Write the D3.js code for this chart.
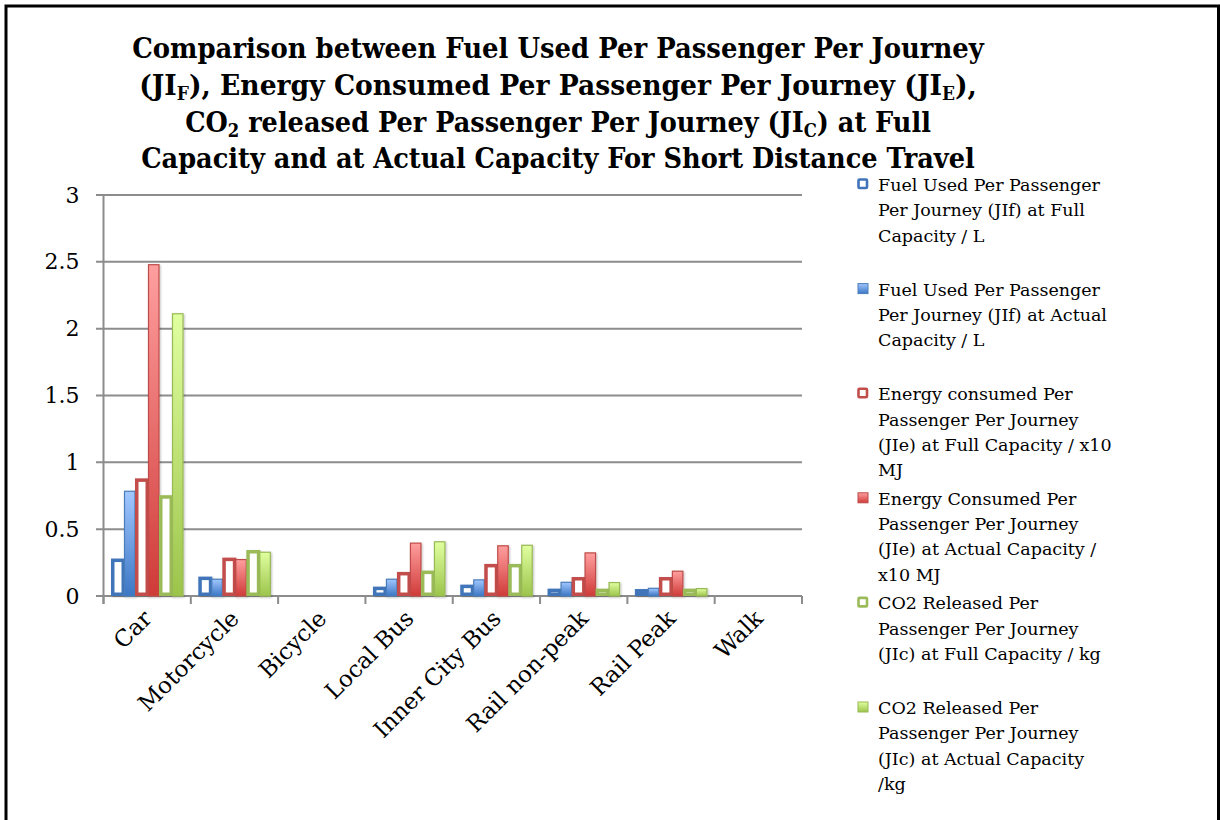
<!DOCTYPE html>
<html>
<head>
<meta charset="utf-8">
<script src="https://cdn.jsdelivr.net/npm/d3@7"></script>
<style>
  html, body { margin: 0; padding: 0; background: #fff; }
  svg { display: block; font-family: "DejaVu Serif", serif; }
</style>
</head>
<body>
<div id="chart"></div>
<script>
const categories = ['Car', 'Motorcycle', 'Bicycle', 'Local Bus', 'Inner City Bus', 'Rail non-peak', 'Rail Peak', 'Walk'];

const jifFull = [0.28, 0.145, 0, 0.07, 0.085, 0.055, 0.052, 0];
const jifActual = [0.788, 0.13, 0, 0.13, 0.125, 0.107, 0.062, 0];
const jieFull = [0.88, 0.287, 0, 0.18, 0.24, 0.142, 0.142, 0];
const jieActual = [2.483, 0.277, 0, 0.40, 0.38, 0.327, 0.19, 0];
const jicFull = [0.754, 0.344, 0, 0.19, 0.24, 0.055, 0.055, 0];
const jicActual = [2.116, 0.332, 0, 0.41, 0.384, 0.105, 0.06, 0];

const yTicks = [0, 0.5, 1, 1.5, 2, 2.5, 3];

const legendLines = [
  ['Fuel Used Per Passenger', 'Per Journey (JIf) at Full', 'Capacity / L'],
  ['Fuel Used Per Passenger', 'Per Journey (JIf) at Actual', 'Capacity / L'],
  ['Energy consumed Per', 'Passenger Per Journey', '(JIe) at Full Capacity / x10', 'MJ'],
  ['Energy Consumed Per', 'Passenger Per Journey', '(JIe) at Actual Capacity /', 'x10 MJ'],
  ['CO2 Released Per', 'Passenger Per Journey', '(JIc) at Full Capacity / kg'],
  ['CO2 Released Per', 'Passenger Per Journey', '(JIc) at Actual Capacity', '/kg'],
];

// title lines: [text, isSubscript] pieces
const titleLines = [
  [['Comparison between Fuel Used Per Passenger Per Journey', false]],
  [['(JI', false], ['F', true], ['), Energy Consumed Per Passenger Per Journey (JI', false], ['E', true], ['),', false]],
  [['CO', false], ['2', true], [' released Per Passenger Per Journey (JI', false], ['C', true], [') at Full', false]],
  [['Capacity and at Actual Capacity For Short Distance Travel', false]],
];
const titleWidths = [852, 838, 746, 834];

const series = [
  { values: jifFull, kind: 'full', stroke: '#3f74ba', light: '#a2c7ff', dark: '#3b76c4' },
  { values: jifActual, kind: 'actual', stroke: '#4a7ebb', light: '#a2c7ff', dark: '#3b76c4' },
  { values: jieFull, kind: 'full', stroke: '#c24e4b', light: '#ff9f9f', dark: '#cf3b38' },
  { values: jieActual, kind: 'actual', stroke: '#be4b48', light: '#ff9f9f', dark: '#cf3b38' },
  { values: jicFull, kind: 'full', stroke: '#9bbb59', light: '#e0ffa0', dark: '#9cc44b' },
  { values: jicActual, kind: 'actual', stroke: '#98b954', light: '#e0ffa0', dark: '#9cc44b' },
];

const W = 1220, H = 820;
const svg = d3.select('#chart').append('svg').attr('width', W).attr('height', H);

const defs = svg.append('defs');
series.forEach((s, i) => {
  const g = defs.append('linearGradient').attr('id', `grad${i}`)
    .attr('x1', 0).attr('y1', 0).attr('x2', 0).attr('y2', 1);
  g.append('stop').attr('offset', '0%').attr('stop-color', s.light);
  g.append('stop').attr('offset', '100%').attr('stop-color', s.dark);
});
defs.append('filter').attr('id', 'shadow').attr('x', '-30%').attr('y', '-10%').attr('width', '160%').attr('height', '120%')
  .append('feDropShadow').attr('dx', 1).attr('dy', 1).attr('stdDeviation', 1)
  .attr('flood-color', '#000').attr('flood-opacity', 0.25);

// outer frame
svg.append('path')
  .attr('d', `M6,${H + 5} V6 H1218.5 V${H + 5}`)
  .attr('fill', 'none').attr('stroke', '#000').attr('stroke-width', 3);

// title - squeeze each line horizontally to the reference width
const title = svg.append('g');
titleLines.forEach((parts, i) => {
  const t = title.append('text')
    .attr('text-anchor', 'middle')
    .attr('font-size', 28).attr('font-weight', 'bold')
    .attr('fill', '#000');
  parts.forEach(([txt, sub]) => {
    const ts = t.append('tspan').text(txt);
    if (sub) ts.attr('font-size', 18).attr('dy', 5);
    else if (t.selectAll('tspan').size() > 1) ts.attr('dy', -5);
  });
  const w = t.node().getComputedTextLength();
  const sx = titleWidths[i] / w;
  t.attr('transform', `translate(558,${58 + i * 36.8}) scale(${sx},1)`);
});

const x = d3.scaleBand().domain(categories).range([103.5, 802]).padding(0);
const y = d3.scaleLinear().domain([0, 3]).range([596, 195]);
const slot = d3.scaleBand().domain(d3.range(series.length)).range([7.5, 79.5]).padding(0);

// gridlines
svg.append('g').selectAll('line').data(yTicks).join('line')
  .attr('x1', 96).attr('x2', 802)
  .attr('y1', d => y(d)).attr('y2', d => y(d))
  .attr('stroke', '#8c8c8c').attr('stroke-width', 2);

// y axis
const yAxis = svg.append('g').attr('transform', 'translate(103.5,0)')
  .call(d3.axisLeft(y).tickValues(yTicks).tickSize(0).tickPadding(24).tickFormat(d3.format('')));
yAxis.select('.domain').attr('stroke', '#8c8c8c').attr('stroke-width', 2).attr('d', `M0,${y(3)}V${y(0) + 8}`);
yAxis.selectAll('text').attr('font-size', 22).attr('font-family', '"DejaVu Serif", serif').attr('fill', '#000');

// x axis ticks at category boundaries
const bounds = categories.map(c => x(c)).concat([x.range()[1]]);
svg.append('g').selectAll('line').data(bounds).join('line')
  .attr('x1', d => d).attr('x2', d => d)
  .attr('y1', y(0)).attr('y2', y(0) + 8)
  .attr('stroke', '#8c8c8c').attr('stroke-width', 2);

svg.append('g').selectAll('text').data(categories).join('text')
  .attr('transform', d => `translate(${x(d) + x.bandwidth() / 2 + 6},620) rotate(-45)`)
  .attr('text-anchor', 'end')
  .attr('font-size', 23).attr('fill', '#000')
  .text(d => d);

// bars
const bars = svg.append('g');
series.forEach((s, si) => {
  const g = bars.append('g').attr('filter', 'url(#shadow)');
  const data = categories.map((c, ci) => ({ c, v: s.values[ci] })).filter(d => d.v > 0);
  if (s.kind === 'full') {
    const sw = 3.5;
    g.selectAll('rect').data(data).join('rect')
      .attr('x', d => x(d.c) + slot(si) + sw / 2)
      .attr('y', d => y(d.v) + sw / 2)
      .attr('width', 14 - sw)
      .attr('height', d => Math.max(0, y(0) - y(d.v) - sw))
      .attr('fill', '#fff')
      .attr('stroke', s.stroke).attr('stroke-width', sw);
  } else {
    g.selectAll('rect').data(data).join('rect')
      .attr('x', d => x(d.c) + slot(si) + 1.5)
      .attr('y', d => y(d.v) + 0.6)
      .attr('width', 10.5)
      .attr('height', d => Math.max(0, y(0) - y(d.v) - 0.6))
      .attr('fill', `url(#grad${si})`)
      .attr('stroke', s.stroke).attr('stroke-width', 1.2);
  }
});

// legend
const legend = svg.append('g');
legendLines.forEach((lines, i) => {
  const s = series[i];
  const cy = 185 + i * 104.6;
  if (s.kind === 'full') {
    legend.append('rect').attr('x', 858.5).attr('y', cy - 5.5).attr('width', 8.5).attr('height', 8.5)
      .attr('rx', 1).attr('fill', '#fff').attr('stroke', s.stroke).attr('stroke-width', 2.6);
  } else {
    legend.append('rect').attr('x', 858).attr('y', cy - 6).attr('width', 10).attr('height', 10)
      .attr('fill', `url(#grad${i})`).attr('stroke', s.stroke).attr('stroke-width', 1);
  }
  const t = legend.append('text').attr('font-size', 17.5).attr('fill', '#000');
  lines.forEach((ln, li) => {
    t.append('tspan').attr('x', 878).attr('y', cy + 6 + li * 25.3).text(ln);
  });
});
</script>
</body>
</html>
